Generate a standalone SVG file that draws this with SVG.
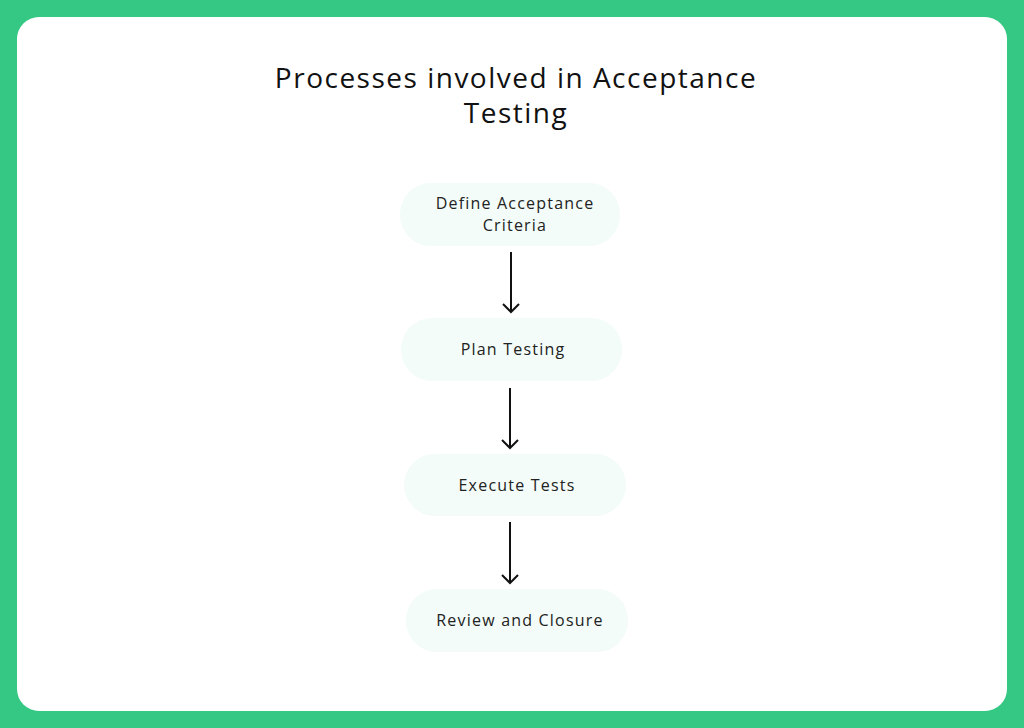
<svg xmlns="http://www.w3.org/2000/svg" width="1024" height="728" viewBox="0 0 1024 728">
<defs>
<style>
.title{font-family:"Open Sans","Noto Sans",sans-serif;font-size:28px;fill:#111;text-anchor:middle;letter-spacing:1.5px}
.node rect{fill:#f3fcf8}
.node text{font-family:"Open Sans","Noto Sans",sans-serif;font-size:16px;fill:#222;text-anchor:middle;letter-spacing:1.2px}
.conn line{stroke:#111;stroke-width:2;fill:none}
.conn path{stroke:#111;stroke-width:2;fill:none}
</style>
</defs>
<rect x="0" y="0" width="1024" height="728" fill="#35c784"/>
<rect x="17" y="17" width="990" height="694" rx="22" fill="#ffffff"/>
<text class="title" x="516" y="88">Processes involved in Acceptance</text>
<text class="title" x="516" y="123">Testing</text>
<g id="node1" class="node">
<rect x="400" y="183" width="220" height="63" rx="31"/>
<text x="515" y="209">Define Acceptance</text>
<text x="515" y="231">Criteria</text>
</g>
<g id="node2" class="node">
<rect x="401" y="318" width="221" height="63" rx="31"/>
<text x="513" y="355">Plan Testing</text>
</g>
<g id="node3" class="node">
<rect x="404" y="454" width="222" height="62" rx="31"/>
<text x="517" y="491">Execute Tests</text>
</g>
<g id="node4" class="node">
<rect x="406" y="589" width="222" height="63" rx="31"/>
<text x="520" y="626">Review and Closure</text>
</g>
<g id="connectors" class="conn">
<line x1="511" y1="252" x2="511" y2="312"/>
<path d="M503 304 L511 312 L519 304"/>
<line x1="510" y1="388" x2="510" y2="448"/>
<path d="M502 440 L510 448 L518 440"/>
<line x1="510" y1="522" x2="510" y2="583"/>
<path d="M502 575 L510 583 L518 575"/>
</g>
</svg>
